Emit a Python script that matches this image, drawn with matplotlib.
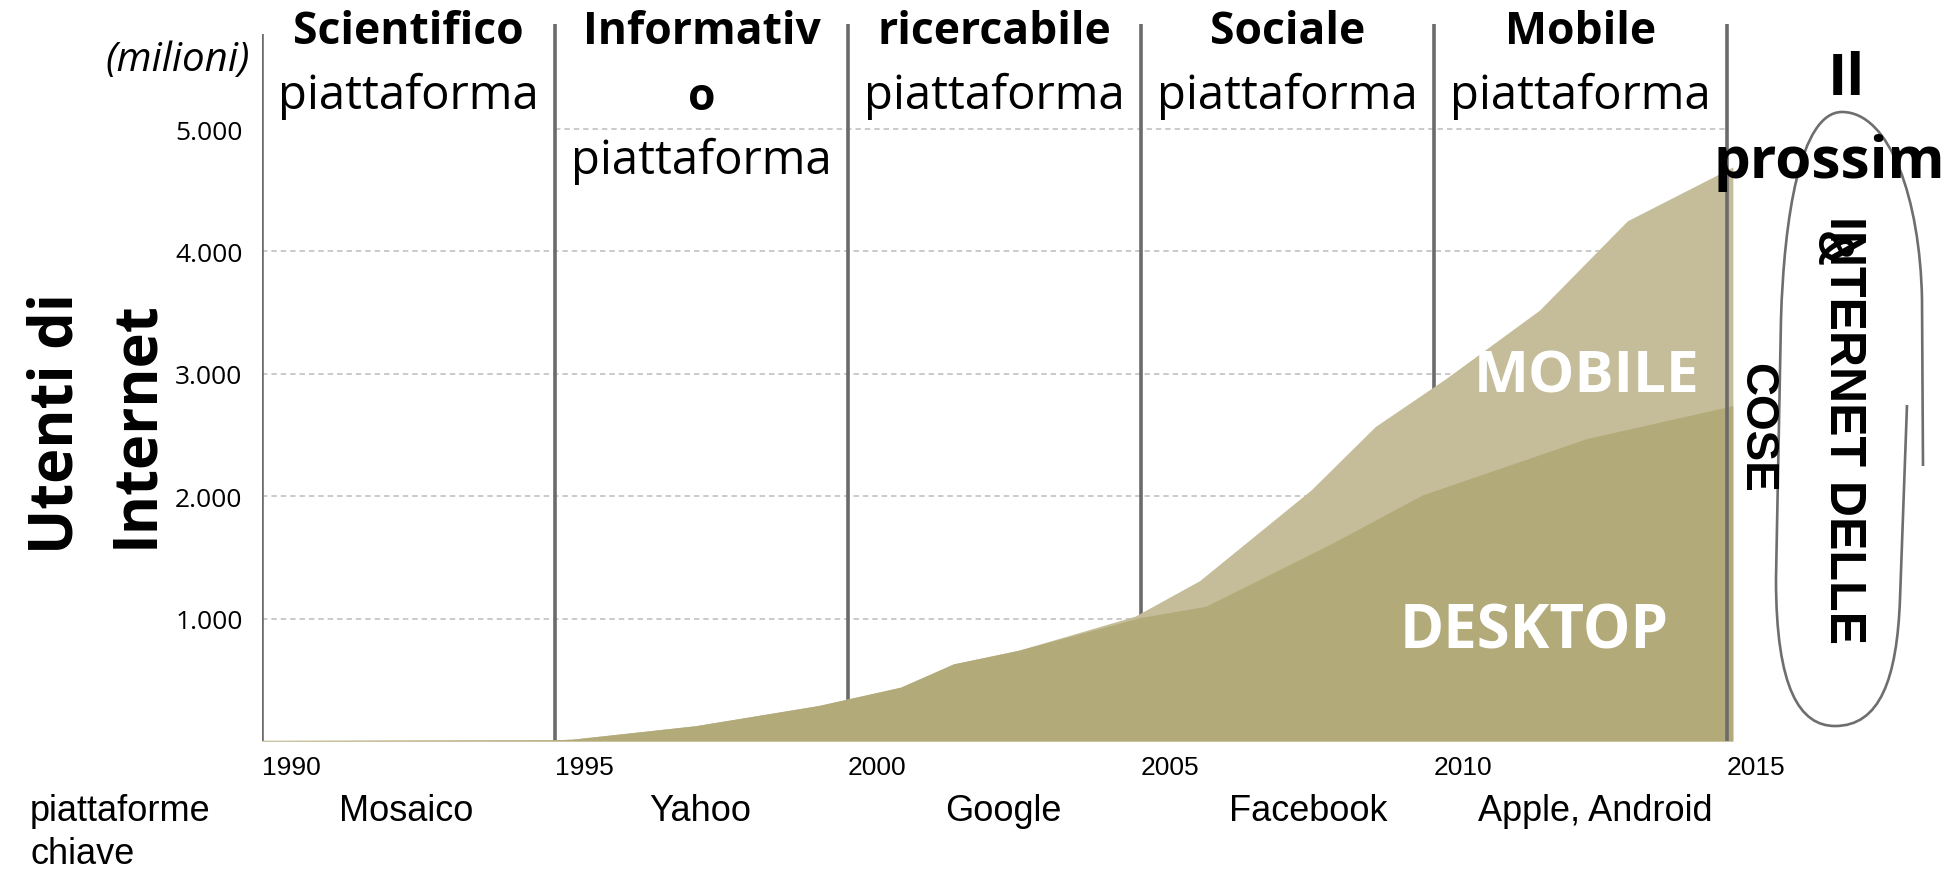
import matplotlib
matplotlib.use("Agg")
import matplotlib.pyplot as plt
from matplotlib import font_manager
from matplotlib.path import Path
from matplotlib.patches import PathPatch
from matplotlib.transforms import blended_transform_factory
from matplotlib.ticker import FuncFormatter

# ---------------- data ----------------
years_desktop = [1990, 1995.0, 1995.3, 1997.4, 1999.5, 2000.9, 2001.8, 2002.9,
                 2005.0, 2006.1, 2008.2, 2009.8, 2012.6, 2015.1]
users_desktop = [5, 10, 15, 125, 290, 440, 630, 740,
                 1010, 1100, 1600, 2010, 2470, 2740]
years_total = [1990, 1995.0, 1995.3, 1997.4, 1999.5, 2000.9, 2001.8, 2002.9,
               2004.9, 2006.0, 2007.9, 2009.0, 2010.2, 2011.8, 2013.3, 2015.1]
users_total = [5, 10, 15, 125, 290, 440, 630, 740,
               1020, 1310, 2050, 2570, 2960, 3520, 4250, 4690]

era_bounds = [1990, 1995, 2000, 2005, 2010, 2015]
era_titles = [["Scientifico"], ["Informativ", "o"], ["ricercabile"], ["Sociale"], ["Mobile"]]
era_sub = "piattaforma"
key_platforms = ["Mosaico", "Yahoo", "Google", "Facebook", "Apple, Android"]
key_platform_x = [1992.46, 1997.47, 2002.65, 2007.85, 2012.75]
y_ticks = [1000, 2000, 3000, 4000, 5000]
x_ticks = [1990, 1995, 2000, 2005, 2010, 2015]

# ---------------- fonts ----------------
names = {f.name for f in font_manager.fontManager.ttflist}
HUM = "Open Sans" if "Open Sans" in names else "DejaVu Sans"
ARIAL = "Liberation Sans" if "Liberation Sans" in names else "DejaVu Sans"
if "Liberation Sans Narrow" in names:
    NARROW, cose_fs, idl_fs = "Liberation Sans Narrow", 40, 44
else:
    NARROW, cose_fs, idl_fs = ARIAL, 33, 36

# ---------------- figure ----------------
W, H = 1959, 870
fig = plt.figure(figsize=(W / 100, H / 100), dpi=100)
fig.patch.set_facecolor("white")


def fx(px):
    return px / W


def fy(py):
    return 1 - py / H


ax_left, ax_right_2015 = 262, 1727
base_y, top5k_y = 742, 130
per_year = (ax_right_2015 - ax_left) / 25.0
x_max = 2015.15
ax_w = (x_max - 1990) * per_year
ymax = 5000 * base_y / (base_y - top5k_y)
ax = fig.add_axes([fx(ax_left), fy(base_y), ax_w / W, base_y / H])
ax.set_xlim(1990, x_max)
ax.set_ylim(0, ymax)
for s in ax.spines.values():
    s.set_visible(False)
ax.patch.set_alpha(0)

grid_col = "#c6c6c6"
line_col = "#6b6b6b"
desk_col = "#b3aa7a"
mob_col = "#c5bd99"

# gridlines
for yv in y_ticks:
    x0 = 1995 if yv == 5000 else 1990
    ax.plot([x0, 2015], [yv, yv], color=grid_col, lw=1.3, dashes=(3, 2.2), zorder=1)

# era divider lines
line_top = (base_y - 25) / (base_y - top5k_y) * 5000
for xb in era_bounds:
    top = line_top - (80 if xb == 1990 else 0)
    ax.plot([xb, xb], [0, top], color=line_col, lw=2.6, zorder=5 if xb == 2015 else 2,
            solid_capstyle="butt")

# areas
ax.fill_between(years_total, users_total, color=mob_col, lw=0, zorder=3)
ax.fill_between(years_desktop, users_desktop, color=desk_col, lw=0, zorder=4)

# ticks
ax.set_yticks(y_ticks)
ax.yaxis.set_major_formatter(FuncFormatter(lambda v, p: f"{int(v):,}".replace(",", ".")))
ax.tick_params(axis="y", length=0, pad=14, labelsize=19)
for t in ax.get_yticklabels():
    t.set_fontfamily(HUM)
ax.set_xticks(x_ticks)
ax.set_xticklabels([str(x) for x in x_ticks], ha="left", fontsize=19, fontfamily=ARIAL)
ax.tick_params(axis="x", length=0, pad=10)

# headers
bt = blended_transform_factory(ax.transData, fig.transFigure)
for i, lines in enumerate(era_titles):
    cx = (era_bounds[i] + era_bounds[i + 1]) / 2
    fig.text(cx, fy(33), lines[0], transform=bt, ha="center", va="center",
             fontsize=32, fontweight="bold", fontfamily=HUM)
    if len(lines) == 1:
        fig.text(cx, fy(96), era_sub, transform=bt, ha="center", va="center",
                 fontsize=34, fontfamily=HUM)
    else:
        fig.text(cx, fy(99), lines[1], transform=bt, ha="center", va="center",
                 fontsize=32, fontweight="bold", fontfamily=HUM)
        fig.text(cx, fy(161), era_sub, transform=bt, ha="center", va="center",
                 fontsize=34, fontfamily=HUM)

# units
fig.text(fx(250), fy(61), "(milioni)", ha="right", va="center", fontsize=29,
         fontstyle="italic", fontfamily=HUM)

# y title
fig.text(fx(57), fy(424), "Utenti di", rotation=90, ha="center", va="center",
         fontsize=43, fontweight="bold", fontfamily=HUM)
fig.text(fx(137), fy(424), "Internet", rotation=90, ha="center", va="center",
         fontsize=43, fontweight="bold", fontfamily=HUM)

# area labels
fig.text(fx(1587), fy(378), "MOBILE", ha="center", va="center", fontsize=42,
         fontweight="bold", color="white", fontfamily=HUM, zorder=10)
fig.text(fx(1534), fy(633), "DESKTOP", ha="center", va="center", fontsize=43,
         fontweight="bold", color="white", fontfamily=HUM, zorder=10)

# bottom row
fig.text(fx(30), fy(812), "piattaforme", ha="left", va="center", fontsize=26, fontfamily=ARIAL)
fig.text(fx(30), fy(855), "chiave", ha="left", va="center", fontsize=26, fontfamily=ARIAL)
for name, xp in zip(key_platforms, key_platform_x):
    fig.text(xp, fy(812), name, transform=bt, ha="center", va="center",
             fontsize=26, fontfamily=ARIAL)

# right side: next platform
fig.text(fx(1846), fy(80), "Il", ha="center", va="center", fontsize=42,
         fontweight="bold", fontfamily=HUM, zorder=10)
fig.text(fx(1829), fy(163), "prossim", ha="center", va="center", fontsize=42,
         fontweight="bold", fontfamily=HUM, zorder=10)
fig.text(fx(1843), fy(430), "INTERNET DELLE", rotation=270, ha="center", va="center",
         fontsize=idl_fs, fontweight="bold", fontfamily=NARROW, zorder=10)
fig.text(fx(1829), fy(249), "&", rotation=270, ha="center", va="center",
         fontsize=idl_fs, fontweight="bold", fontfamily=NARROW, zorder=10)
fig.text(fx(1756), fy(428), "COSE", rotation=270, ha="center", va="center",
         fontsize=cose_fs, fontweight="bold", fontfamily=NARROW, zorder=10)

# loop shape
pts = [
    (1923, 467), (1922, 300),
    (1920, 200), (1890, 113), (1842, 113),
    (1800, 113), (1784, 220), (1781, 320),
    (1776, 580),
    (1776, 690), (1800, 727), (1835, 727),
    (1880, 727), (1897, 680), (1900, 600),
    (1907, 406),
]
codes = [Path.MOVETO, Path.LINETO,
         Path.CURVE4, Path.CURVE4, Path.CURVE4,
         Path.CURVE4, Path.CURVE4, Path.CURVE4,
         Path.LINETO,
         Path.CURVE4, Path.CURVE4, Path.CURVE4,
         Path.CURVE4, Path.CURVE4, Path.CURVE4,
         Path.LINETO]
path = Path([(fx(x), fy(y)) for x, y in pts], codes)
fig.add_artist(PathPatch(path, transform=fig.transFigure, facecolor="none",
                         edgecolor="#6e6e6e", lw=1.9, zorder=5))

fig.savefig("out.png", dpi=100, facecolor="white")
